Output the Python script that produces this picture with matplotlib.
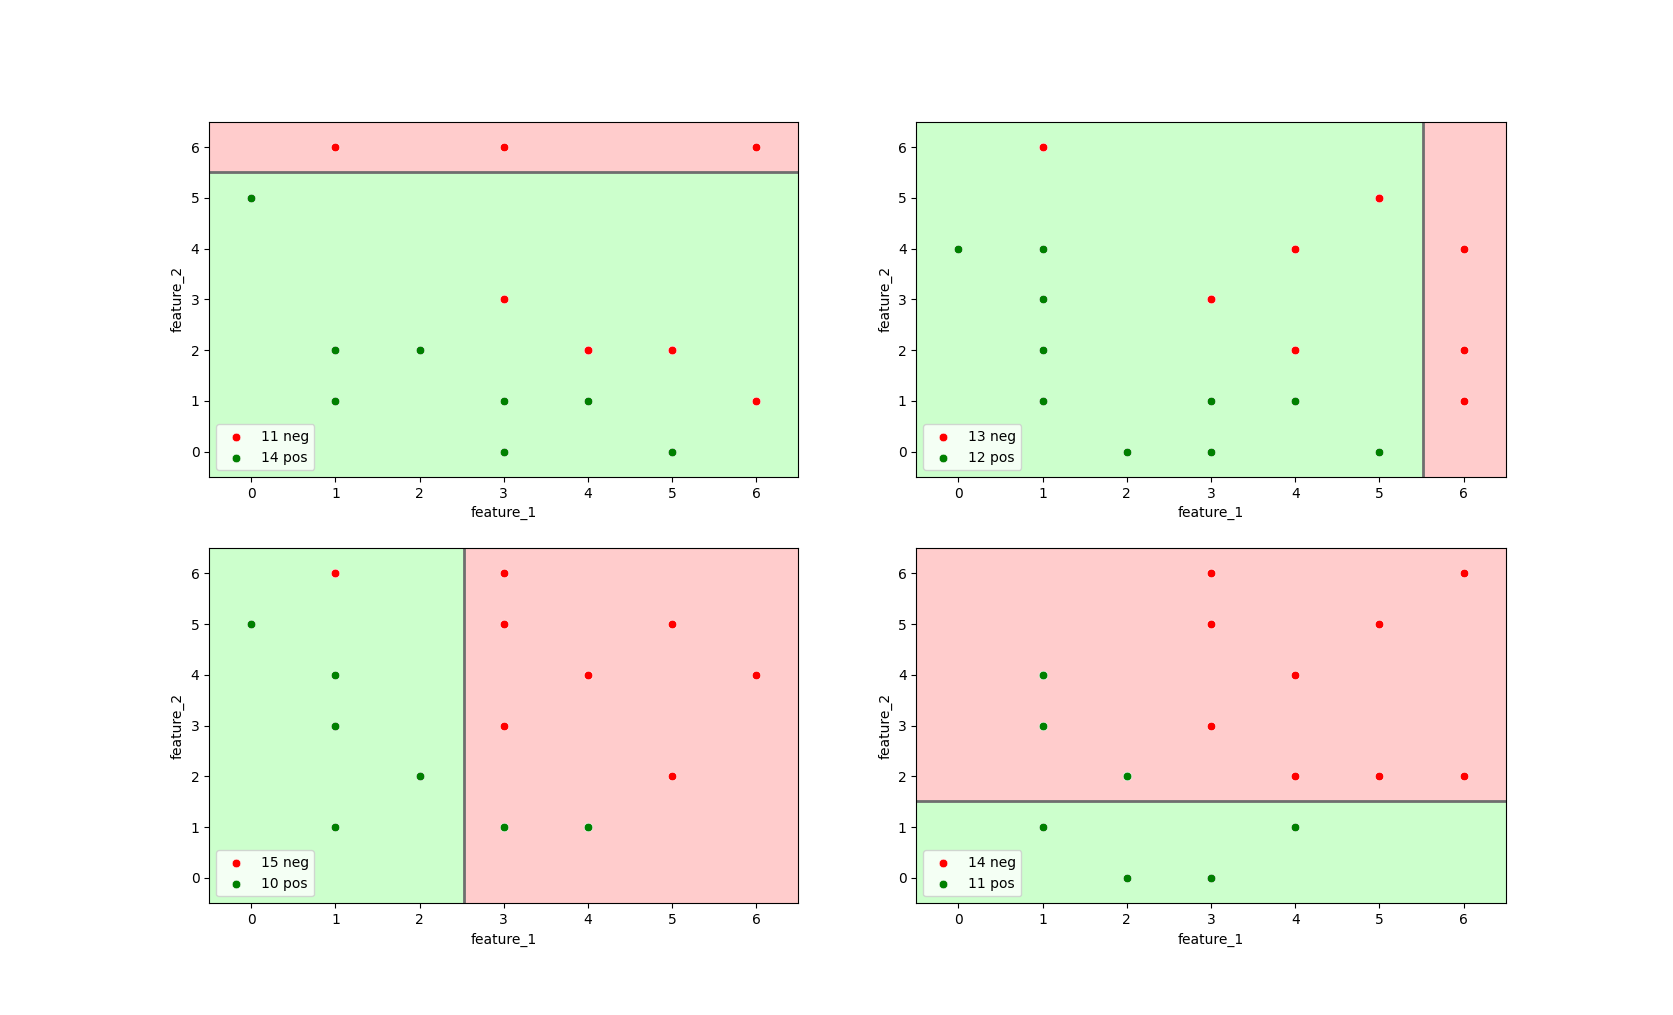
import matplotlib
matplotlib.use("Agg")
import matplotlib.pyplot as plt
import numpy as np

# Panel data (duplicates included to match legend counts)
neg_1 = [(1, 6), (1, 6), (3, 6), (6, 6), (6, 6), (3, 3), (4, 2), (4, 2), (5, 2), (5, 2), (6, 1)]
pos_1 = [(0, 5), (0, 5), (1, 2), (1, 2), (2, 2), (2, 2), (1, 1), (1, 1), (3, 1), (4, 1),
         (3, 0), (3, 0), (5, 0), (5, 0)]

neg_2 = [(1, 6), (5, 5), (5, 5), (4, 4), (6, 4), (6, 4), (3, 3), (3, 3), (4, 2),
         (6, 2), (6, 2), (6, 1), (6, 1)]
pos_2 = [(0, 4), (1, 4), (1, 3), (1, 2), (1, 1), (1, 1), (2, 0), (3, 1), (4, 1), (4, 1),
         (3, 0), (5, 0)]

neg_3 = [(1, 6), (1, 6), (3, 6), (3, 6), (3, 5), (3, 5), (3, 5), (5, 5), (5, 5),
         (4, 4), (4, 4), (4, 4), (6, 4), (3, 3), (5, 2)]
pos_3 = [(0, 5), (0, 5), (1, 4), (1, 3), (1, 3), (2, 2), (2, 2), (1, 1), (3, 1), (4, 1)]

neg_4 = [(3, 6), (3, 6), (6, 6), (3, 5), (3, 5), (3, 5), (5, 5), (5, 5), (4, 4),
         (3, 3), (4, 2), (4, 2), (5, 2), (6, 2)]
pos_4 = [(1, 4), (1, 4), (1, 3), (2, 2), (2, 2), (1, 1), (4, 1), (2, 0), (3, 0), (3, 0), (3, 0)]

# Split: (orientation, threshold); negative side is above / right
splits = [("h", 5.51), ("v", 5.52), ("v", 2.53), ("h", 1.51)]

panels = [(neg_1, pos_1), (neg_2, pos_2), (neg_3, pos_3), (neg_4, pos_4)]

lo, hi = -0.5, 6.5
RED_BG = "#ffcccc"
GREEN_BG = "#ccffcc"

fig, axes = plt.subplots(2, 2, figsize=(16.73, 10.15), dpi=100)

for ax, (neg, pos), (orient, thr) in zip(axes.flat, panels, splits):
    if orient == "h":
        ax.axhspan(thr, hi, color=RED_BG, zorder=0, lw=0)
        ax.axhspan(lo, thr, color=GREEN_BG, zorder=0, lw=0)
        ax.axhline(thr, color="#6e6e6e", lw=2, zorder=1)
    else:
        ax.axvspan(thr, hi, color=RED_BG, zorder=0, lw=0)
        ax.axvspan(lo, thr, color=GREEN_BG, zorder=0, lw=0)
        ax.axvline(thr, color="#6e6e6e", lw=2, zorder=1)
    nx, ny = np.array(neg).T
    px, py = np.array(pos).T
    ax.scatter(nx, ny, color="red", s=38, edgecolors="white", linewidths=0.4,
               label=f"{len(neg)} neg", zorder=3)
    ax.scatter(px, py, color="green", s=38, edgecolors="white", linewidths=0.4,
               label=f"{len(pos)} pos", zorder=3)
    ax.set_xlim(lo, hi)
    ax.set_ylim(lo, hi)
    ax.set_xticks(range(7))
    ax.set_yticks(range(7))
    ax.set_xlabel("feature_1")
    ax.set_ylabel("feature_2")
    ax.legend(loc="lower left")

fig.savefig("out.png", dpi=100)
